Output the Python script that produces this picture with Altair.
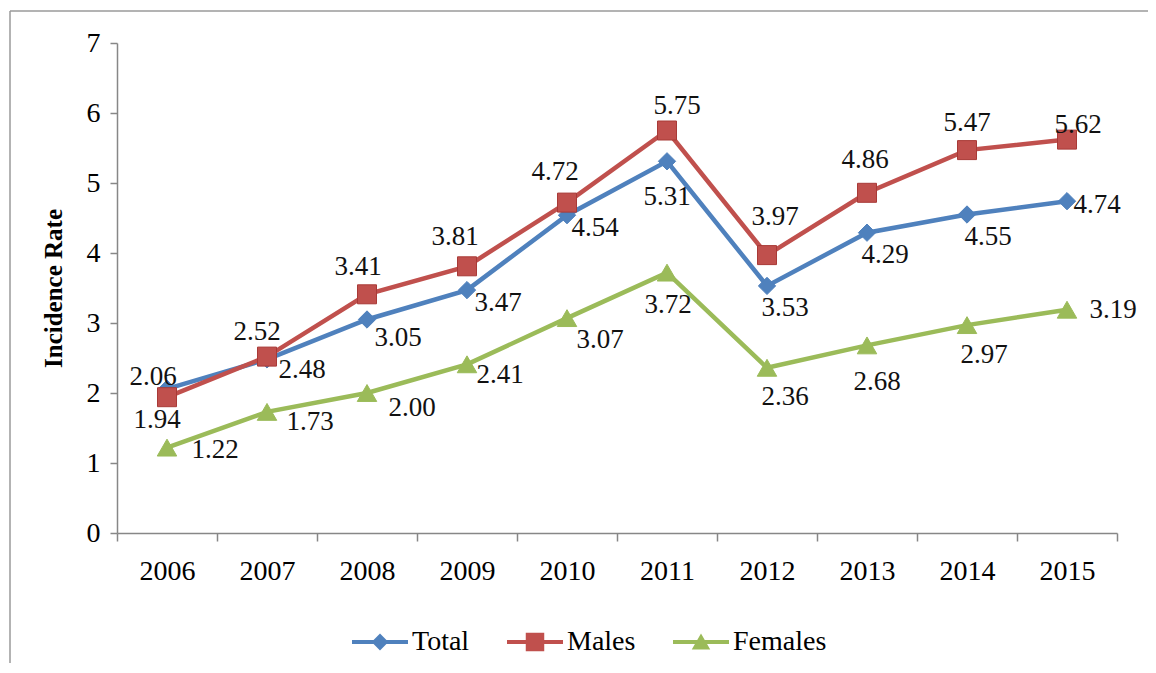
import altair as alt
import pandas as pd

# ---- data ----
years = [2006, 2007, 2008, 2009, 2010, 2011, 2012, 2013, 2014, 2015]
series_names = ["Total", "Males", "Females"]
total = [2.06, 2.48, 3.05, 3.47, 4.54, 5.31, 3.53, 4.29, 4.55, 4.74]
males = [1.94, 2.52, 3.41, 3.81, 4.72, 5.75, 3.97, 4.86, 5.47, 5.62]
females = [1.22, 1.73, 2.00, 2.41, 3.07, 3.72, 2.36, 2.68, 2.97, 3.19]
y_ticks = [0, 1, 2, 3, 4, 5, 6, 7]

# ---- label nudges (pixels, styling only) ----
total_ldx = [-14, 35, 31, 31, 28, 0, 18, 18, 21, 30]
total_ldy = [-12, 11, 18, 13, 13, 36, 22, 22, 22, 4]
males_ldx = [-10, -10, -9, -12, -12, 10, 8, -2, 0, 11]
males_ldy = [23, -25, -27, -29, -31, -25, -38, -33, -27, -15]
females_ldx = [48, 43, 45, 33, 33, 1, 18, 10, 17, 46]
females_ldy = [2, 10, 15, 11, 22, 32, 29, 37, 30, 0]

colors = ["#4F81BD", "#C0504D", "#9BBB59"]
marker_shapes = ["diamond", "square", "triangle-up"]
marker_sizes = [300, 361, 380]
marker_strokes = ["#4F81BD", "#A83A37", "#9BBB59"]
legend_paths = [
    "M-1,-0.075H1V0.075H-1Z M0,-0.3L0.3,0L0,0.3L-0.3,0Z",
    "M-1,-0.075H1V0.075H-1Z M-0.33,-0.33H0.33V0.33H-0.33Z",
    "M-1,-0.075H1V0.075H-1Z M0,-0.3L0.33,0.27H-0.33Z",
]

rows = []
for name, vals, dxs, dys in [
    ("Total", total, total_ldx, total_ldy),
    ("Males", males, males_ldx, males_ldy),
    ("Females", females, females_ldx, females_ldy),
]:
    for yr, v, dx, dy in zip(years, vals, dxs, dys):
        rows.append({"year": yr, "series": name, "value": v, "ldx": dx, "ldy": dy})
df = pd.DataFrame(rows)

FONT = "Liberation Serif"
W, H = 1000, 490

x_enc = alt.X(
    "year:O",
    scale=alt.Scale(type="band", paddingInner=0, paddingOuter=0),
    axis=alt.Axis(
        title=None, labelAngle=0, tickBand="extent", ticks=True, tickSize=8,
        labelFont=FONT, labelFontSize=28, labelColor="black", labelPadding=16,
        domainColor="#878787", tickColor="#878787", domainWidth=1.5, tickWidth=1.5,
    ),
)
y_enc = alt.Y(
    "value:Q",
    scale=alt.Scale(domain=[0, 7], nice=False, zero=True),
    axis=alt.Axis(
        title="Incidence Rate", values=y_ticks, grid=False, tickSize=7,
        labelFont=FONT, labelFontSize=28, labelColor="black", labelPadding=10,
        titleFont=FONT, titleFontSize=25, titleFontWeight="bold", titleColor="black",
        titlePadding=20, domainColor="#878787", tickColor="#878787",
        domainWidth=1.5, tickWidth=1.5,
    ),
)

base = alt.Chart(df)

layers = []
for i, name in enumerate(series_names):
    sub = base.transform_filter(alt.datum.series == name)
    layers.append(
        sub.mark_line(strokeWidth=4.5, color=colors[i]).encode(x=x_enc, y=y_enc)
    )
    layers.append(
        sub.mark_point(
            filled=True, shape=marker_shapes[i], size=marker_sizes[i],
            fill=colors[i], stroke=marker_strokes[i], strokeWidth=1, opacity=1,
        ).encode(x=x_enc, y=y_enc)
    )

labels = base.transform_calculate(
    label="format(datum.value, '.2f')"
).mark_text(
    font=FONT, fontSize=27, color="#111111", align="center", baseline="middle",
    dx=alt.expr("datum.ldx"), dy=alt.expr("datum.ldy"),
).encode(
    x=x_enc, y=y_enc,
    text="label:N",
)

legend_cfg = dict(
    title=None, orient="none", legendX=235, legendY=571,
    direction="horizontal", columns=3, symbolSize=3136,
    symbolOpacity=1, symbolStrokeWidth=0, labelFont=FONT,
    labelFontSize=28, labelColor="black", labelOffset=4,
    columnPadding=37, padding=0,
)
legend_layer = base.mark_point(filled=True, opacity=0, size=1).encode(
    x=x_enc, y=y_enc,
    fill=alt.Fill(
        "series:N",
        scale=alt.Scale(domain=series_names, range=colors),
        legend=alt.Legend(**legend_cfg),
    ),
    shape=alt.Shape(
        "series:N",
        scale=alt.Scale(domain=series_names, range=legend_paths),
        legend=alt.Legend(**legend_cfg),
    ),
)

one = pd.DataFrame({"k": [0]})
border_top = alt.Chart(one).mark_rule(color="#9a9a9a", strokeWidth=1.5).encode(
    x=alt.value(-107), x2=alt.value(1060), y=alt.value(-32)
)
border_left = alt.Chart(one).mark_rule(color="#9a9a9a", strokeWidth=1.5).encode(
    x=alt.value(-107), y=alt.value(-32), y2=alt.value(660)
)

chart = alt.layer(
    border_top, border_left, *layers, labels, legend_layer
).properties(
    width=W, height=H,
    autosize=alt.AutoSizeParams(type="none"),
    padding={"left": 109, "top": 35, "right": 31, "bottom": 130},
    background="white",
).configure_view(stroke=None)

chart.save("out.html", embed_options={"renderer": "svg", "actions": False})
